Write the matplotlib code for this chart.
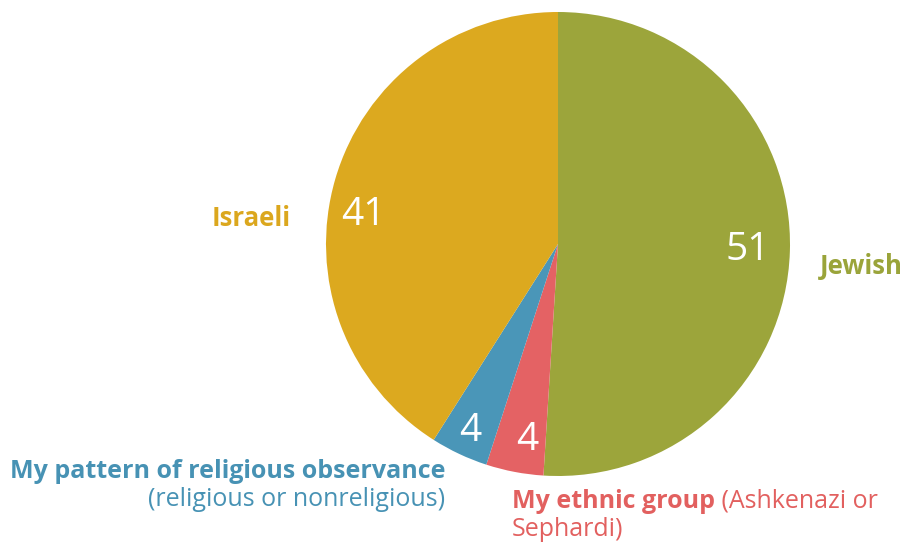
import numpy as np
import matplotlib
matplotlib.use("Agg")
import matplotlib.pyplot as plt

categories = ["Jewish", "My ethnic group", "My pattern of religious observance", "Israeli"]
values = [51, 4, 4, 41]
colors = ["#9CA53B", "#E46264", "#4A96B8", "#DCA91F"]
text_colors = ["#9AA43A", "#E2605F", "#4792B4", "#DBA71E"]

plt.rcParams["font.family"] = ["Open Sans", "DejaVu Sans"]

W, H = 906, 546
fig = plt.figure(figsize=(W / 100, H / 100), dpi=100)
cx, cy, R = 558, 244, 232
ax = fig.add_axes([(cx - R) / W, (H - cy - R) / H, 2 * R / W, 2 * R / H])
wedges, _ = ax.pie(values, colors=colors, startangle=90, counterclock=False,
                   radius=1, wedgeprops=dict(linewidth=0))
ax.set_xlim(-1, 1)
ax.set_ylim(-1, 1)
ax.set_aspect("equal")
ax.axis("off")

# value labels inside the wedges
label_r = [0.82, 0.855, 0.89, 0.85]
angle_shift = [0, 2, 0, 7.7]
for w, v, r, s in zip(wedges, values, label_r, angle_shift):
    mid = np.deg2rad((w.theta1 + w.theta2) / 2 + s)
    ax.text(r * np.cos(mid), r * np.sin(mid), str(v), color="white",
            fontsize=28, ha="center", va="center")

def px(x, y):
    return x / W, 1 - y / H

fs = 18
fig.text(*px(820, 267), "Jewish", color=text_colors[0], fontsize=18.5,
         fontweight="bold", ha="left", va="center")
fig.text(*px(291, 219), "Israeli", color=text_colors[3], fontsize=18.5,
         fontweight="bold", ha="right", va="center")
fig.text(*px(445, 478), "My pattern of religious observance", color=text_colors[2],
         fontsize=fs, fontweight="bold", ha="right", va="baseline")
fig.text(*px(445, 506), "(religious or nonreligious)", color=text_colors[2],
         fontsize=fs, ha="right", va="baseline")

t1 = fig.text(*px(512, 508), "My ethnic group", color=text_colors[1],
              fontsize=fs, fontweight="bold", ha="left", va="baseline")
renderer = fig.canvas.get_renderer()
bb = t1.get_window_extent(renderer)
fig.text(bb.x1 / W, 1 - 508 / H, " (Ashkenazi or", color=text_colors[1],
         fontsize=fs, ha="left", va="baseline")
fig.text(*px(512, 536), "Sephardi)", color=text_colors[1],
         fontsize=fs, ha="left", va="baseline")

fig.savefig("out.png", dpi=100)
